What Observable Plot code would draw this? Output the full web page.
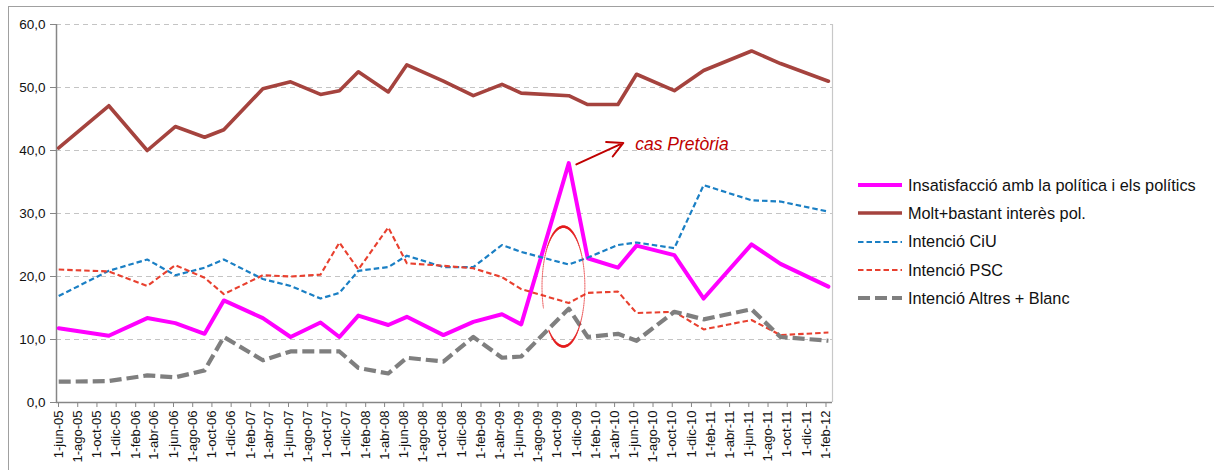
<!DOCTYPE html>
<html><head><meta charset="utf-8">
<script src="https://cdn.jsdelivr.net/npm/d3@7"></script>
<script src="https://cdn.jsdelivr.net/npm/@observablehq/plot@0.6"></script>
<style>
html,body{margin:0;padding:0;background:#fff;overflow:hidden;}
#wrap{position:relative;width:1214px;height:470px;font-family:"Liberation Sans",Arial,sans-serif;}
#border{position:absolute;left:8px;top:6px;width:1300px;height:600px;border-left:1.5px solid #a0a0a0;border-top:1.5px solid #a0a0a0;}
#chart{position:absolute;left:0;top:0;}
#legend{position:absolute;left:858px;top:171px;}
.item{display:flex;align-items:center;height:28.3px;font-size:16.3px;color:#111;white-space:nowrap;}
.item svg{margin-right:6px;display:block;}
</style></head><body>
<div id="wrap"><div id="border"></div><div id="chart"></div><div id="legend"></div></div>
<script>
// ---------- data ----------
const tickLabels = ["1-jun-05","1-ago-05","1-oct-05","1-dic-05","1-feb-06","1-abr-06","1-jun-06","1-ago-06","1-oct-06","1-dic-06",
  "1-feb-07","1-abr-07","1-jun-07","1-ago-07","1-oct-07","1-dic-07","1-feb-08","1-abr-08","1-jun-08","1-ago-08",
  "1-oct-08","1-dic-08","1-feb-09","1-abr-09","1-jun-09","1-ago-09","1-oct-09","1-dic-09","1-feb-10","1-abr-10",
  "1-jun-10","1-ago-10","1-oct-10","1-dic-10","1-feb-11","1-abr-11","1-jun-11","1-ago-11","1-oct-11","1-dic-11","1-feb-12"];

const surveyDates = ["2005-06-08","2005-11-14","2006-03-16","2006-06-13","2006-09-14","2006-11-14","2007-03-18","2007-06-14",
  "2007-09-17","2007-11-16","2008-01-15","2008-04-19","2008-06-17","2008-10-11","2009-01-14","2009-04-15","2009-06-15",
  "2009-11-13","2010-01-12","2010-04-18","2010-06-16","2010-10-14","2011-01-15","2011-06-16","2011-09-16","2012-02-15"];

const seriesNames = ["Insatisfacció amb la política i els polítics","Molt+bastant interès pol.","Intenció CiU","Intenció PSC","Intenció Altres + Blanc"];

const insatisfaccio = [11.8,10.6,13.4,12.6,10.9,16.2,13.4,10.4,12.7,10.4,13.8,12.3,13.6,10.7,12.8,14.0,12.4,38.0,22.9,21.4,24.9,23.4,16.5,25.1,22.0,18.4];
const interes       = [40.4,47.1,40.0,43.8,42.1,43.3,49.8,50.9,48.9,49.5,52.5,49.3,53.6,51.0,48.7,50.5,49.1,48.7,47.3,47.3,52.1,49.5,52.7,55.8,53.8,51.0];
const ciu           = [16.9,20.9,22.7,20.2,21.4,22.7,19.6,18.5,16.5,17.4,20.9,21.5,23.3,21.5,21.5,25.0,23.9,21.9,23.0,25.0,25.4,24.5,34.5,32.1,31.9,30.3];
const psc           = [21.1,20.8,18.5,21.8,19.8,17.2,20.2,20.0,20.3,25.4,21.1,27.8,22.1,21.7,21.3,19.9,18.0,15.8,17.4,17.6,14.2,14.4,11.6,13.1,10.7,11.1];
const altres        = [3.3,3.4,4.3,4.0,5.1,10.4,6.7,8.1,8.1,8.1,5.5,4.6,7.1,6.5,10.4,7.1,7.3,14.9,10.4,10.9,9.8,14.4,13.2,14.8,10.4,9.8];

const yTicks = [0,10,20,30,40,50,60];
const xDomainDates = ["2005-06-01","2012-02-28"];

// annotation anchors
const noteText = "cas Pretòria";
const noteAt = {date:"2010-06-12", value:41.0};
const arrowFrom = {date:"2009-12-07", value:37.8};
const arrowTo = {date:"2010-05-05", value:41.2};
const ringCenter = {date:"2009-10-27", value:18.4};
const ringRadius = {days:68, value:9.5};

// ---------- styles ----------
const styles = [
  {stroke:"#ff00ff", strokeWidth:4, dash:null},
  {stroke:"#a5433e", strokeWidth:3.6, dash:null},
  {stroke:"#1a7fc4", strokeWidth:2.2, dash:"5.5,3"},
  {stroke:"#e8402f", strokeWidth:2.1, dash:"5.5,3"},
  {stroke:"#7f7f7f", strokeWidth:4.2, dash:"12,5"}
];

// ---------- build ----------
const parseD = d3.utcParse("%Y-%m-%d");
const monthIdx = {ene:0,feb:1,mar:2,abr:3,may:4,jun:5,jul:6,ago:7,sep:8,oct:9,nov:10,dic:11};
const tickDates = tickLabels.map(s => { const [d,m,y] = s.split("-"); return new Date(Date.UTC(2000+ +y, monthIdx[m], +d)); });
const labelByTime = new Map(tickDates.map((d,i)=>[+d, tickLabels[i]]));
const allValues = [insatisfaccio, interes, ciu, psc, altres];
const rows = [];
seriesNames.forEach((name, si) => allValues[si].forEach((v, i) => rows.push({series:name, si, date:parseD(surveyDates[i]), value:v})));
const xDomain = xDomainDates.map(parseD);

const lineMarks = seriesNames.map((name, si) => Plot.line(rows.filter(r => r.si === si), {
  x:"date", y:"value", stroke: styles[si].stroke, strokeWidth: styles[si].strokeWidth,
  strokeDasharray: styles[si].dash ?? undefined, strokeLinejoin:"round", strokeLinecap: styles[si].dash ? "butt" : "round"
}));

// hand-drawn ring (variable width segments)
const rc = parseD(ringCenter.date);
const segs = [];
const t0 = 3.96, t1 = 3.51 + 2*Math.PI, N = 140;
for (let i = 0; i < N; i++) {
  const a = t0 + (t1-t0)*i/N, b = t0 + (t1-t0)*(i+1)/N;
  const pt = t => ({x: new Date(+rc + ringRadius.days*864e5*Math.cos(t)), y: ringCenter.value + ringRadius.value*Math.sin(t)});
  const p = pt(a), q = pt(b);
  const m = (a+b)/2;
  segs.push({x1:p.x, y1:p.y, x2:q.x, y2:q.y, w: 0.6 + 1.9*Math.pow(Math.sin(m),4)});
}

const fmtY = d => d.toFixed(1).replace(".", ",");

const chart = Plot.plot({
  width: 840, height: 470,
  marginLeft: 56, marginRight: 8, marginTop: 24, marginBottom: 68,
  style: {fontFamily: '"Liberation Sans", Arial, sans-serif', background: "transparent", overflow: "visible"},
  x: {type: "utc", domain: xDomain},
  y: {domain: [0, 60]},
  marks: [
    Plot.gridY(yTicks.slice(1), {stroke:"#c4c4c4", strokeOpacity:1, strokeWidth:1.2, strokeDasharray:"5,4"}),
    Plot.ruleX([xDomain[1]], {stroke:"#c8c8c8", strokeWidth:1.2}),
    Plot.axisY(yTicks, {tickSize:6, tickPadding:5, fontSize:13.5, tickFormat: fmtY, stroke:"#868686", fill:"#111", label:null}),
    Plot.axisX(tickDates, {tickSize:5, tickPadding:3, tickRotate:-90, fontSize:13, dx:2, tickFormat: d => labelByTime.get(+d), stroke:"#868686", fill:"#111", label:null}),
    Plot.ruleX([xDomain[0]], {stroke:"#868686", strokeWidth:1.5}),
    Plot.ruleY([0], {stroke:"#868686", strokeWidth:1.5}),
    ...lineMarks,
    Plot.link(segs, {x1:"x1", y1:"y1", x2:"x2", y2:"y2", stroke:"#e41a1c", strokeOpacity:0.8, strokeWidth:"w", strokeLinecap:"round"}),
    Plot.arrow([{x1:parseD(arrowFrom.date), y1:arrowFrom.value, x2:parseD(arrowTo.date), y2:arrowTo.value}],
      {x1:"x1", y1:"y1", x2:"x2", y2:"y2", stroke:"#c00000", strokeWidth:2, headLength:14, headAngle:55}),
    Plot.text([{x:parseD(noteAt.date), y:noteAt.value, t:noteText}], {x:"x", y:"y", text:"t", textAnchor:"start", fontSize:17.5, fontStyle:"italic", fill:"#c00000"})
  ]
});
document.getElementById("chart").appendChild(chart);

// legend
const legend = document.getElementById("legend");
seriesNames.forEach((name, si) => {
  const st = styles[si];
  const item = document.createElement("div");
  item.className = "item";
  item.innerHTML = `<svg width="44" height="10"><line x1="0" y1="5" x2="44" y2="5" stroke="${st.stroke}" stroke-width="${st.strokeWidth}" ${st.dash ? `stroke-dasharray="${st.dash}"` : ""}/></svg><span>${name}</span>`;
  legend.appendChild(item);
});
</script></body></html>
